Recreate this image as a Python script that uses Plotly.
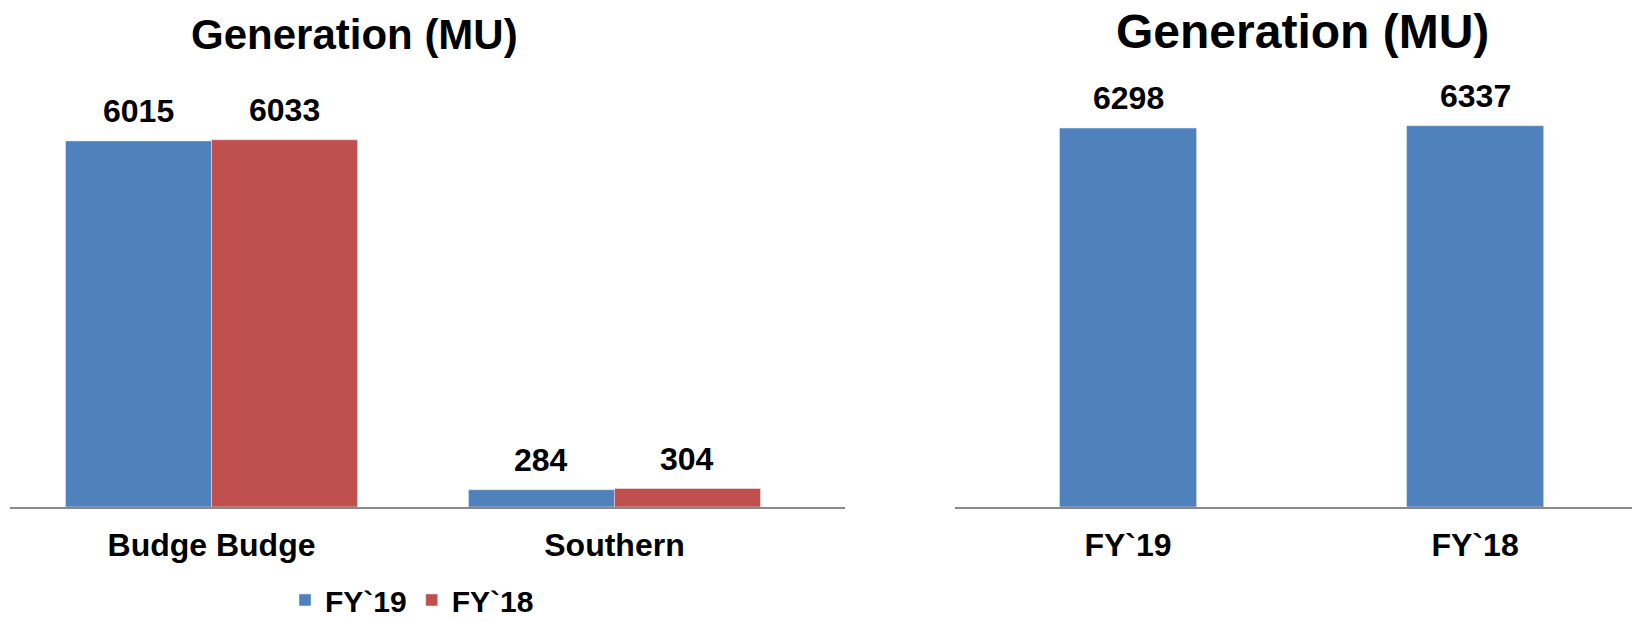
import plotly.graph_objects as go

# ---- data ----
plants = ["Budge Budge", "Southern"]
fy19_plant = [6015, 284]
fy18_plant = [6033, 304]
series_names = ["FY`19", "FY`18"]
years = ["FY`19", "FY`18"]
total_gen = [6298, 6337]
title_text = "Generation (MU)"

BLUE = "#4F81BD"
RED = "#C0504D"
FONT = "Liberation Sans, Arial, sans-serif"
W, H = 1632, 621

fig = go.Figure()

# left chart: grouped bars (explicit width/offset so each subplot has its own gap)
lw = 0.3623
fig.add_trace(go.Bar(x=plants, y=fy19_plant, name=series_names[0], marker_color=BLUE,
                     width=lw, offset=-lw, xaxis="x", yaxis="y", hoverinfo="x+y"))
fig.add_trace(go.Bar(x=plants, y=fy18_plant, name=series_names[1], marker_color=RED,
                     width=lw, offset=0, xaxis="x", yaxis="y", hoverinfo="x+y"))
# right chart
rw = 0.395
fig.add_trace(go.Bar(x=years, y=total_gen, name="Total", marker_color=BLUE,
                     width=rw, offset=-rw / 2, xaxis="x2", yaxis="y2", showlegend=False))

lab_font = dict(family=FONT, size=32, color="black", weight="bold")
annotations = []
for i, v in enumerate(fy19_plant):
    annotations.append(dict(x=i - lw / 2, y=v, xref="x", yref="y", text=str(v),
                            showarrow=False, yanchor="bottom", yshift=10, font=lab_font))
for i, v in enumerate(fy18_plant):
    annotations.append(dict(x=i + lw / 2, y=v, xref="x", yref="y", text=str(v),
                            showarrow=False, yanchor="bottom", yshift=10, font=lab_font))
for i, v in enumerate(total_gen):
    annotations.append(dict(x=i, y=v, xref="x2", yref="y2", text=str(v),
                            showarrow=False, yanchor="bottom", yshift=10, font=lab_font))

# titles
annotations.append(dict(x=354 / W, y=1 - 34 / H, xref="paper", yref="paper", text=title_text,
                        showarrow=False, xanchor="center", yanchor="middle",
                        font=dict(family=FONT, size=42, color="black", weight="bold")))
annotations.append(dict(x=1302 / W, y=1 - 31 / H, xref="paper", yref="paper", text=title_text,
                        showarrow=False, xanchor="center", yanchor="middle",
                        font=dict(family=FONT, size=48, color="black", weight="bold")))

ybot = 1 - 507 / H
ytop = 1 - 100 / H
plot_h = 407

axis_common = dict(showgrid=False, zeroline=False, showline=True, linecolor="#898989",
                   linewidth=2, ticks="", type="category", automargin=False,
                   ticklabelstandoff=9,
                   tickfont=dict(family=FONT, size=32, color="black", weight="bold"))
fig.update_layout(
    width=W, height=H,
    margin=dict(l=0, r=0, t=0, b=0, autoexpand=False),
    paper_bgcolor="white", plot_bgcolor="white",
    barmode="overlay",
    showlegend=True,
    legend=dict(orientation="h", x=285 / W, y=-0.008, xanchor="left", yanchor="bottom",
                font=dict(family=FONT, size=30, color="black", weight="bold"),
                itemwidth=30, tracegroupgap=0, bgcolor="rgba(0,0,0,0)"),
    xaxis=dict(domain=[10 / W, 845 / W], range=[-0.5, 1.572], anchor="y", **axis_common),
    yaxis=dict(domain=[ybot, ytop], range=[0, plot_h * 16.43], visible=False, anchor="x"),
    xaxis2=dict(domain=[954.5 / W, 1.0], range=[-0.5, 1.452], anchor="y2", **axis_common),
    yaxis2=dict(domain=[ybot, ytop], range=[0, plot_h * 16.62], visible=False, anchor="x2"),
    annotations=annotations,
)

fig.write_html("out.html")
